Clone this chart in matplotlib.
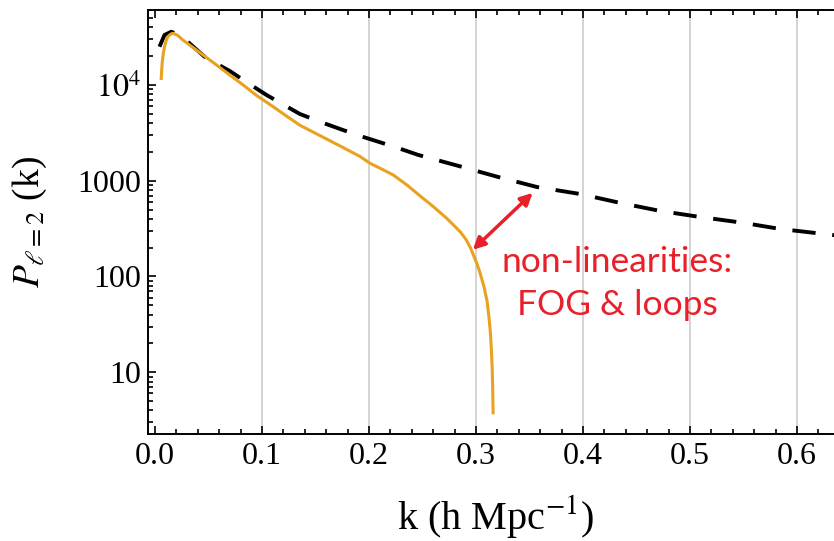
import matplotlib
matplotlib.use('Agg')
import matplotlib.pyplot as plt
from matplotlib.ticker import FixedLocator, FixedFormatter, MultipleLocator, LogLocator, NullFormatter

# quadrupole of the power spectrum, linear theory (dashed) vs. full model (solid)
k_lin = [0.0042, 0.0089, 0.0152, 0.022, 0.0323, 0.0464, 0.058, 0.0708, 0.085, 0.1042,
         0.120, 0.1354, 0.155, 0.173, 0.191, 0.2095, 0.228, 0.246, 0.2835, 0.320,
         0.357, 0.397, 0.435, 0.472, 0.509, 0.550, 0.584, 0.624, 0.640]
p_lin = [25100, 33300, 36000, 33500, 27200, 19700, 16600, 13800, 10800, 7870,
         6240, 4980, 4100, 3470, 2950, 2540, 2180, 1860, 1430, 1100,
         860, 728, 586, 484, 419, 363, 314, 279, 266]

k_nl = [0.0058, 0.0067, 0.0078, 0.0089, 0.0104, 0.012, 0.0143, 0.0167, 0.021, 0.026,
        0.0323, 0.040, 0.048, 0.0574, 0.070, 0.0824, 0.095, 0.1105, 0.123, 0.1354,
        0.1542, 0.1729, 0.1917, 0.2010, 0.2104, 0.2226, 0.2354, 0.2479, 0.2601, 0.2729,
        0.2854, 0.2905, 0.2948, 0.3010, 0.3040, 0.3075, 0.3104, 0.3122, 0.3135, 0.3144,
        0.3151, 0.3156, 0.3160]
p_nl = [11700, 16900, 21500, 25100, 29000, 31900, 33800, 34700, 33100, 29500,
        26200, 22600, 19400, 16200, 12700, 10000, 7760, 5930, 4730, 3800,
        2960, 2310, 1790, 1520, 1350, 1150, 904, 692, 537, 403,
        292, 245, 200, 135, 107, 78, 55, 37, 25.7, 17,
        11.4, 7, 3.77]

x_ticks = [0.0, 0.1, 0.2, 0.3, 0.4, 0.5, 0.6]
y_ticks = [10, 100, 1000, 10000]
y_labels = ['10', '100', '1000', '$10^4$']

plt.rcParams['font.family'] = ['Liberation Serif', 'DejaVu Serif']
plt.rcParams['mathtext.fontset'] = 'stix'

fig = plt.figure(figsize=(8.34, 5.41), dpi=100)
ax = fig.add_axes([0.1775, 0.198, 0.8225, 0.7835])

ax.plot(k_lin, p_lin, color='black', lw=2.8, linestyle=(0, (6, 4.3)), zorder=3)
ax.plot(k_nl, p_nl, color='#e8a21f', lw=2.2, zorder=4)

ax.set_yscale('log')
ax.set_xlim(-0.0065, 0.6346)
ax.set_ylim(2.27, 60700)

ax.xaxis.set_major_locator(FixedLocator(x_ticks))
ax.xaxis.set_major_formatter(FixedFormatter(['%.1f' % t for t in x_ticks]))
ax.xaxis.set_minor_locator(MultipleLocator(0.02))
ax.yaxis.set_major_locator(FixedLocator(y_ticks))
ax.yaxis.set_major_formatter(FixedFormatter(y_labels))
ax.yaxis.set_minor_locator(LogLocator(base=10, subs=range(2, 10)))
ax.yaxis.set_minor_formatter(NullFormatter())

ax.tick_params(which='both', direction='in', top=True, right=False, labelsize=23, width=1.2)
ax.tick_params(which='major', length=6)
ax.tick_params(which='minor', length=3.5)
ax.tick_params(axis='x', pad=6)
ax.tick_params(axis='y', pad=5)

for s in ['left', 'bottom', 'top']:
    ax.spines[s].set_linewidth(1.4)
ax.spines['right'].set_visible(False)

# vertical grid only, skip the line at k = 0
ax.xaxis.grid(True, which='major', color='#d4d4d4', lw=1.4)
ax.xaxis.get_gridlines()[0].set_visible(False)
ax.set_axisbelow(True)

ax.set_xlabel('k (h Mpc$^{-1}$)', fontsize=29)
ax.xaxis.set_label_coords(0.507, -0.14)
ax.set_ylabel(r'$P_{\ell=2}$ (k)', fontsize=27)
ax.yaxis.set_label_coords(-0.145, 0.5)

red = '#e8202a'
ax.annotate('', xy=(0.297, 190), xytext=(0.353, 747),
            arrowprops=dict(arrowstyle='<|-|>', color=red, lw=2.5,
                            mutation_scale=18, shrinkA=0, shrinkB=0))
ax.text(0.432, 142, 'non-linearities:', color=red, fontsize=25.5, family='Lato',
        ha='center', va='center')
ax.text(0.432, 50, 'FOG & loops', color=red, fontsize=25.5, family='Lato',
        ha='center', va='center')

fig.savefig('out.png', dpi=100)
